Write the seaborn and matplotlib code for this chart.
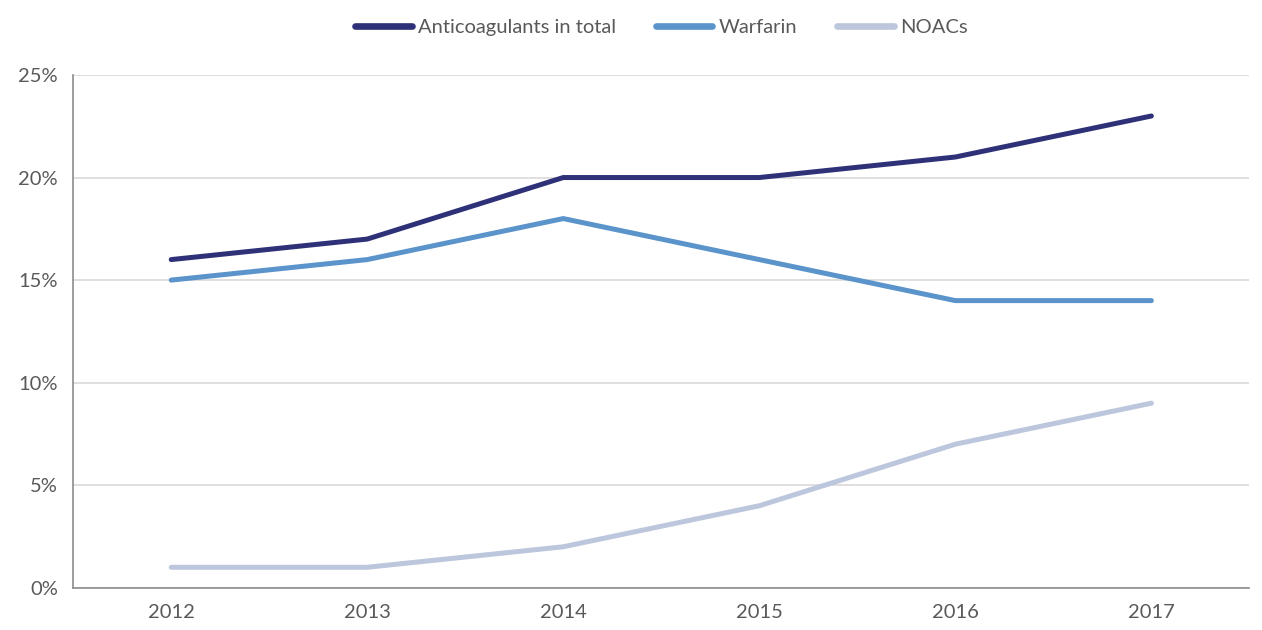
import pandas as pd
import matplotlib.pyplot as plt
import seaborn as sns
from matplotlib.ticker import FuncFormatter, FixedLocator

years = ['2012', '2013', '2014', '2015', '2016', '2017']
anticoagulants = [16, 17, 20, 20, 21, 23]
warfarin = [15, 16, 18, 16, 14, 14]
noacs = [1, 1, 2, 4, 7, 9]
series_names = ['Anticoagulants in total', 'Warfarin', 'NOACs']
colors = ['#2e3178', '#5b93cb', '#bcc6dc']

rows = []
for name, vals in zip(series_names, [anticoagulants, warfarin, noacs]):
    for i, v in enumerate(vals):
        rows.append({'pos': i, 'value': v, 'series': name})
df = pd.DataFrame(rows)

sns.set_style('white')
plt.rcParams['font.family'] = ['Lato', 'DejaVu Sans']

fig = plt.figure(figsize=(12.62, 6.3), dpi=100)
ax = fig.add_axes([0.058, 0.067, 0.932, 0.814])

sns.lineplot(data=df, x='pos', y='value', hue='series', hue_order=series_names,
             palette=colors, linewidth=3.6, ax=ax, legend=True)
for line in ax.lines:
    line.set_solid_capstyle('round')

text_color = '#595959'
fs = 14.5
ax.set_xlim(-0.5, 5.5)
ax.set_ylim(0, 25)
ax.set_yticks([0, 5, 10, 15, 20, 25])
ax.yaxis.set_major_formatter(FuncFormatter(lambda v, p: f'{int(v)}%'))
ax.grid(axis='y', color='#d9d9d9', linewidth=1.2)
ax.set_axisbelow(True)

ax.set_xticks(range(len(years)))
ax.set_xticklabels(years)
ax.xaxis.set_minor_locator(FixedLocator([i - 0.5 for i in range(len(years) + 1)]))
ax.tick_params(axis='x', which='major', length=0, pad=12, labelsize=fs, labelcolor=text_color)
ax.tick_params(axis='x', which='minor', length=6, width=1.2, color='#8c8c8c', direction='out')
ax.tick_params(axis='y', length=6, width=1.2, color='#8c8c8c', direction='out',
               labelsize=fs, labelcolor=text_color, pad=5)
ax.set_xlabel('')
ax.set_ylabel('')

for side in ['top', 'right']:
    ax.spines[side].set_visible(False)
for side in ['left', 'bottom']:
    ax.spines[side].set_color('#8c8c8c')
    ax.spines[side].set_linewidth(1.2)

handles, labels = ax.get_legend_handles_labels()
leg = ax.legend(handles, labels, loc='lower center', bbox_to_anchor=(0.5, 1.04),
                ncol=3, frameon=False, fontsize=fs, handlelength=2.8,
                handletextpad=0.3, columnspacing=2.0)
for t in leg.get_texts():
    t.set_color(text_color)
for h in leg.legend_handles:
    h.set_linewidth(4.8)

fig.savefig('out.png', dpi=100)
